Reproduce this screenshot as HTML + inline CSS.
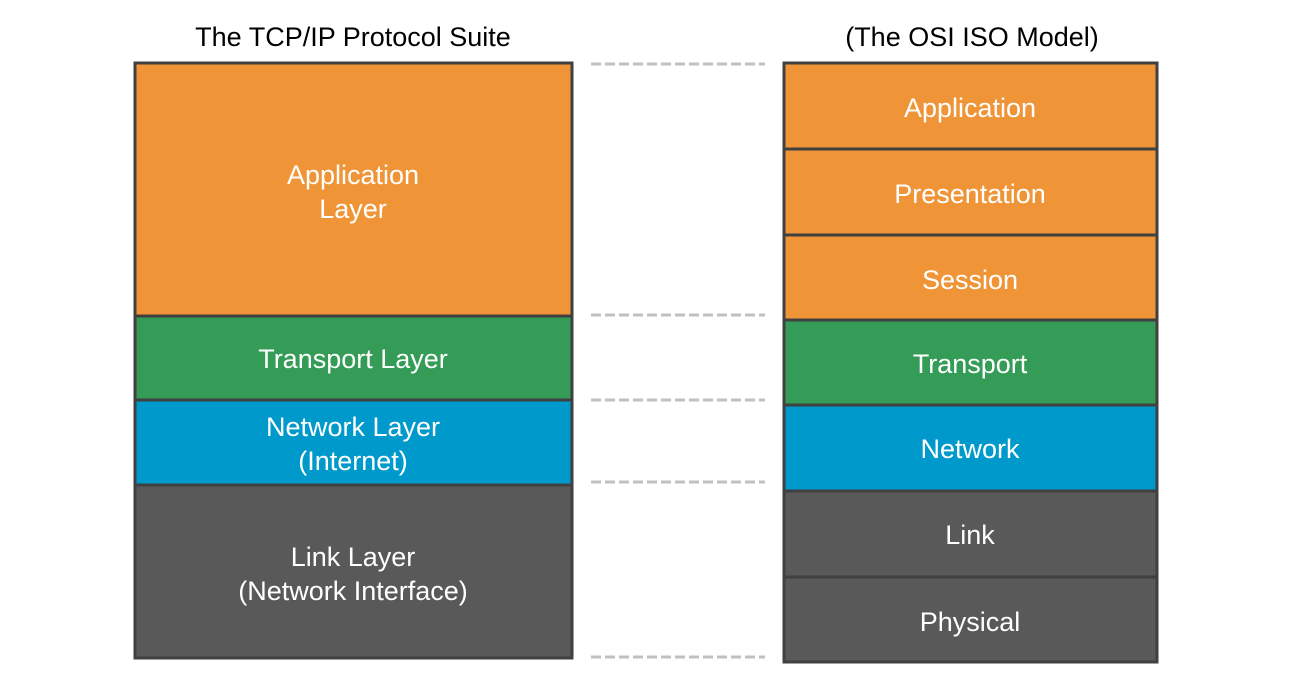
<!DOCTYPE html>
<html><head><meta charset="utf-8"><style>
html,body{margin:0;padding:0;background:#fff;}
svg text{font-family:"Liberation Sans",sans-serif;font-size:27px;fill:#fff;text-anchor:middle;}
</style></head><body>
<svg width="1299" height="685" viewBox="0 0 1299 685" xmlns="http://www.w3.org/2000/svg">
<text x="353" y="46" style="fill:#000">The TCP/IP Protocol Suite</text>
<text x="972" y="46" style="fill:#000">(The OSI ISO Model)</text>
<g stroke="#404040" stroke-width="3">
<rect x="135" y="63" width="437" height="253" fill="#f09537"/>
<rect x="135" y="316" width="437" height="84" fill="#349c56"/>
<rect x="135" y="400" width="437" height="85" fill="#0099cc"/>
<rect x="135" y="485" width="437" height="173" fill="#595959"/>
<rect x="784" y="63" width="373" height="86" fill="#f09537"/>
<rect x="784" y="149" width="373" height="86" fill="#f09537"/>
<rect x="784" y="235" width="373" height="85" fill="#f09537"/>
<rect x="784" y="320" width="373" height="85" fill="#349c56"/>
<rect x="784" y="405" width="373" height="86" fill="#0099cc"/>
<rect x="784" y="491" width="373" height="86" fill="#595959"/>
<rect x="784" y="577" width="373" height="85" fill="#595959"/>
</g>
<g stroke="#c0c0c0" stroke-width="3" stroke-dasharray="10 4">
<line x1="591" y1="64" x2="765" y2="64"/>
<line x1="591" y1="315" x2="765" y2="315"/>
<line x1="591" y1="400" x2="765" y2="400"/>
<line x1="591" y1="482" x2="765" y2="482"/>
<line x1="591" y1="657" x2="765" y2="657"/>
</g>
<text x="353" y="184">Application</text>
<text x="353" y="218">Layer</text>
<text x="353" y="368">Transport Layer</text>
<text x="353" y="436">Network Layer</text>
<text x="353" y="470">(Internet)</text>
<text x="353" y="566">Link Layer</text>
<text x="353" y="600">(Network Interface)</text>
<text x="970" y="117">Application</text>
<text x="970" y="203">Presentation</text>
<text x="970" y="289">Session</text>
<text x="970" y="373">Transport</text>
<text x="970" y="458">Network</text>
<text x="970" y="544">Link</text>
<text x="970" y="631">Physical</text>
</svg>
</body></html>
